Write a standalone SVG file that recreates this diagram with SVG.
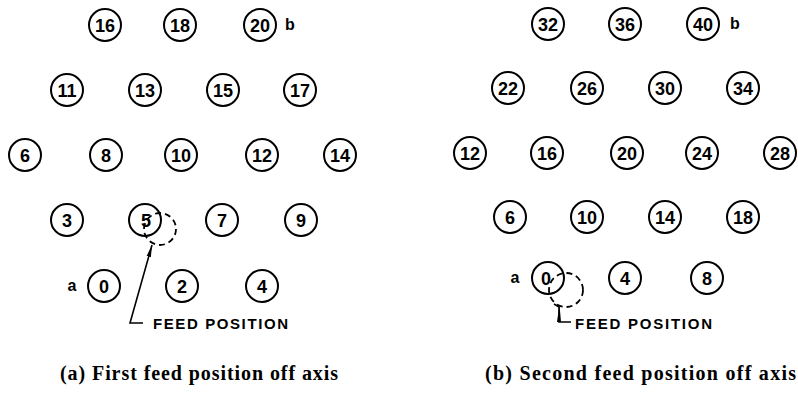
<svg xmlns="http://www.w3.org/2000/svg" width="798" height="393" viewBox="0 0 798 393">
<style>
.node circle{fill:none;stroke:#000;stroke-width:2}
.node text{font-family:"Liberation Sans",Arial,sans-serif;font-weight:bold;font-size:18px;text-anchor:middle;fill:#000}
.lab{font-family:"Liberation Sans",Arial,sans-serif;font-weight:bold;font-size:16px;fill:#000}
.feed{font-family:"Liberation Sans",Arial,sans-serif;font-weight:bold;font-size:15px;fill:#000}
.cap{font-family:"Liberation Serif","Times New Roman",serif;font-weight:bold;font-size:20px;fill:#000}
.dash{fill:none;stroke:#000;stroke-width:1.8;stroke-dasharray:6 4}
.conn{fill:none;stroke:#000;stroke-width:1.6}
</style>
<defs>
<marker id="ah" viewBox="0 0 12 6" refX="12" refY="3" markerWidth="12" markerHeight="6" markerUnits="userSpaceOnUse" orient="auto">
<path d="M0,0.8 L12,3 L0,5.2 Z" fill="#000"/>
</marker>
</defs>

<!-- Diagram (a) -->
<g id="a-n16" class="node"><circle cx="105" cy="25" r="16"/><text x="105" y="31.5">16</text></g>
<g id="a-n18" class="node"><circle cx="180" cy="25" r="16"/><text x="180" y="31.5">18</text></g>
<g id="a-n20" class="node"><circle cx="260" cy="25" r="16"/><text x="260" y="31.5">20</text></g>
<g id="a-n11" class="node"><circle cx="67" cy="90" r="16"/><text x="67" y="96.5">11</text></g>
<g id="a-n13" class="node"><circle cx="145" cy="90" r="16"/><text x="145" y="96.5">13</text></g>
<g id="a-n15" class="node"><circle cx="223" cy="90" r="16"/><text x="223" y="96.5">15</text></g>
<g id="a-n17" class="node"><circle cx="300" cy="90" r="16"/><text x="300" y="96.5">17</text></g>
<g id="a-n6" class="node"><circle cx="25" cy="155" r="16"/><text x="25" y="161.5">6</text></g>
<g id="a-n8" class="node"><circle cx="106" cy="155" r="16"/><text x="106" y="161.5">8</text></g>
<g id="a-n10" class="node"><circle cx="181" cy="155" r="16"/><text x="181" y="161.5">10</text></g>
<g id="a-n12" class="node"><circle cx="262" cy="155" r="16"/><text x="262" y="161.5">12</text></g>
<g id="a-n14" class="node"><circle cx="340" cy="155" r="16"/><text x="340" y="161.5">14</text></g>
<g id="a-n3" class="node"><circle cx="67" cy="220" r="16"/><text x="67" y="226.5">3</text></g>
<g id="a-n5" class="node"><circle cx="145" cy="220" r="16"/><text x="146" y="226.5">5</text></g>
<g id="a-n7" class="node"><circle cx="222" cy="220" r="16"/><text x="222" y="226.5">7</text></g>
<g id="a-n9" class="node"><circle cx="301" cy="220" r="16"/><text x="301" y="226.5">9</text></g>
<g id="a-n0" class="node"><circle cx="104" cy="286" r="16"/><text x="104" y="292.5">0</text></g>
<g id="a-n2" class="node"><circle cx="182" cy="286" r="16"/><text x="182" y="292.5">2</text></g>
<g id="a-n4" class="node"><circle cx="262" cy="286" r="16"/><text x="262" y="292.5">4</text></g>
<g id="a-feed"><circle class="dash" cx="160" cy="229" r="16"/></g>
<g id="a-labels">
<text class="lab" x="72" y="291" text-anchor="middle">a</text>
<text class="lab" x="290" y="30" text-anchor="middle">b</text>
<text class="feed" x="153" y="328.5" textLength="135" lengthAdjust="spacing">FEED POSITION</text>
<text class="cap" x="60" y="380" textLength="278" lengthAdjust="spacing">(a) First feed position off axis</text>
</g>

<!-- Diagram (b) -->
<g id="b-n32" class="node"><circle cx="548" cy="24" r="16"/><text x="548" y="30.5">32</text></g>
<g id="b-n36" class="node"><circle cx="625" cy="24" r="16"/><text x="625" y="30.5">36</text></g>
<g id="b-n40" class="node"><circle cx="703" cy="24" r="16"/><text x="703" y="30.5">40</text></g>
<g id="b-n22" class="node"><circle cx="508" cy="88" r="16"/><text x="508" y="94.5">22</text></g>
<g id="b-n26" class="node"><circle cx="587" cy="88" r="16"/><text x="587" y="94.5">26</text></g>
<g id="b-n30" class="node"><circle cx="665" cy="88" r="16"/><text x="665" y="94.5">30</text></g>
<g id="b-n34" class="node"><circle cx="743" cy="88" r="16"/><text x="743" y="94.5">34</text></g>
<g id="b-n12" class="node"><circle cx="470" cy="153" r="16"/><text x="470" y="159.5">12</text></g>
<g id="b-n16" class="node"><circle cx="547" cy="153" r="16"/><text x="547" y="159.5">16</text></g>
<g id="b-n20" class="node"><circle cx="627" cy="153" r="16"/><text x="627" y="159.5">20</text></g>
<g id="b-n24" class="node"><circle cx="702" cy="153" r="16"/><text x="702" y="159.5">24</text></g>
<g id="b-n28" class="node"><circle cx="780" cy="153" r="16"/><text x="780" y="159.5">28</text></g>
<g id="b-n6" class="node"><circle cx="510" cy="217" r="16"/><text x="510" y="223.5">6</text></g>
<g id="b-n10" class="node"><circle cx="587" cy="217" r="16"/><text x="587" y="223.5">10</text></g>
<g id="b-n14" class="node"><circle cx="665" cy="217" r="16"/><text x="665" y="223.5">14</text></g>
<g id="b-n18" class="node"><circle cx="743" cy="217" r="16"/><text x="743" y="223.5">18</text></g>
<g id="b-n0" class="node"><circle cx="548" cy="278" r="16"/><text x="546" y="284.5">0</text></g>
<g id="b-n4" class="node"><circle cx="625" cy="278" r="16"/><text x="625" y="284.5">4</text></g>
<g id="b-n8" class="node"><circle cx="707" cy="278" r="16"/><text x="707" y="284.5">8</text></g>
<g id="b-feed"><circle class="dash" cx="566" cy="290" r="17"/></g>
<g id="b-labels">
<text class="lab" x="515" y="283" text-anchor="middle">a</text>
<text class="lab" x="735" y="29" text-anchor="middle">b</text>
<text class="feed" x="575" y="328.5" textLength="137" lengthAdjust="spacing">FEED POSITION</text>
<text class="cap" x="485" y="380" textLength="311" lengthAdjust="spacing">(b) Second feed position off axis</text>
</g>

<!-- Connectors -->
<g id="connectors">
<path class="conn" d="M143,323 L130,323 L152,245" marker-end="url(#ah)"/>
<path class="conn" d="M571,322 L559,322 L559,307 L554,304"/>
<path d="M557,322 L561,322 L559.5,305 Z" fill="#000"/>
</g>
</svg>
